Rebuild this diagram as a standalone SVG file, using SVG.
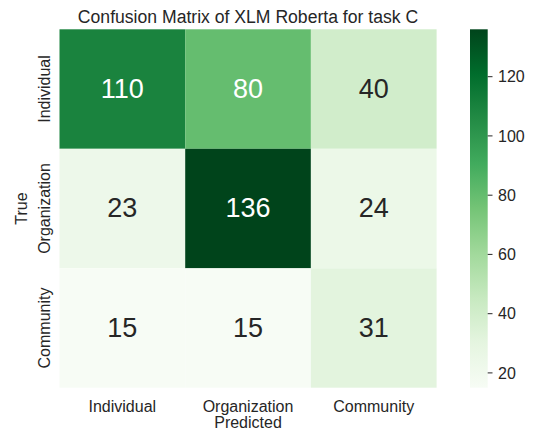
<svg xmlns="http://www.w3.org/2000/svg" width="534" height="430" viewBox="0 0 534 430">
<defs>
<linearGradient id="greens" x1="0" y1="1" x2="0" y2="0">
<stop offset="0" stop-color="#f7fcf5"/>
<stop offset="0.125" stop-color="#e5f5e0"/>
<stop offset="0.25" stop-color="#c7e9c0"/>
<stop offset="0.375" stop-color="#a1d99b"/>
<stop offset="0.5" stop-color="#74c476"/>
<stop offset="0.625" stop-color="#41ab5d"/>
<stop offset="0.75" stop-color="#238b45"/>
<stop offset="0.875" stop-color="#006d2c"/>
<stop offset="1" stop-color="#00441b"/>
</linearGradient>
<style>
text{font-family:"Liberation Sans",Arial,sans-serif;fill:#262626}
.ann{font-size:27px;text-anchor:middle}
.w{fill:#ffffff}
.tick{font-size:16px}
.mid{text-anchor:middle}
.title{font-size:17.6px;text-anchor:middle}
.tk{stroke:#262626;stroke-width:1}
</style>
</defs>
<rect width="534" height="430" fill="#ffffff"/>
<text class="title" x="248" y="23">Confusion Matrix of XLM Roberta for task C</text>
<g id="heatmap">
<g id="cell-0-0"><rect x="59.5" y="29.3" width="125.7" height="119.5" fill="#1a833e"/><text class="ann w" x="122.3" y="97.8">110</text></g>
<g id="cell-0-1"><rect x="185.2" y="29.3" width="125.7" height="119.5" fill="#65bd6f"/><text class="ann w" x="248" y="97.8">80</text></g>
<g id="cell-0-2"><rect x="310.9" y="29.3" width="125.7" height="119.5" fill="#d1edcb"/><text class="ann" x="373.7" y="97.8">40</text></g>
<g id="cell-1-0"><rect x="59.5" y="148.8" width="125.7" height="119.5" fill="#edf8ea"/><text class="ann" x="122.3" y="217.3">23</text></g>
<g id="cell-1-1"><rect x="185.2" y="148.8" width="125.7" height="119.5" fill="#00441b"/><text class="ann w" x="248" y="217.3">136</text></g>
<g id="cell-1-2"><rect x="310.9" y="148.8" width="125.7" height="119.5" fill="#ecf8e8"/><text class="ann" x="373.7" y="217.3">24</text></g>
<g id="cell-2-0"><rect x="59.5" y="268.3" width="125.7" height="119.4" fill="#f7fcf5"/><text class="ann" x="122.3" y="336.8">15</text></g>
<g id="cell-2-1"><rect x="185.2" y="268.3" width="125.7" height="119.4" fill="#f7fcf5"/><text class="ann" x="248" y="336.8">15</text></g>
<g id="cell-2-2"><rect x="310.9" y="268.3" width="125.7" height="119.4" fill="#e3f4de"/><text class="ann" x="373.7" y="336.8">31</text></g>
</g>
<g id="x-axis">
<text class="tick mid" x="122.3" y="411.7">Individual</text>
<text class="tick mid" x="248" y="411.7">Organization</text>
<text class="tick mid" x="373.7" y="411.7">Community</text>
<text class="tick mid" x="248" y="427.5">Predicted</text>
</g>
<g id="y-axis">
<text class="tick mid" transform="translate(49.5,89) rotate(-90)">Individual</text>
<text class="tick mid" transform="translate(49.5,208.5) rotate(-90)">Organization</text>
<text class="tick mid" transform="translate(49.5,328) rotate(-90)">Community</text>
<text class="tick mid" transform="translate(27,208.5) rotate(-90)">True</text>
</g>
<g id="colorbar">
<rect x="470" y="29.3" width="17.7" height="358.4" fill="url(#greens)"/>
<line class="tk" x1="487.7" y1="76.7" x2="492.5" y2="76.7"/>
<line class="tk" x1="487.7" y1="135.9" x2="492.5" y2="135.9"/>
<line class="tk" x1="487.7" y1="195.2" x2="492.5" y2="195.2"/>
<line class="tk" x1="487.7" y1="254.4" x2="492.5" y2="254.4"/>
<line class="tk" x1="487.7" y1="313.7" x2="492.5" y2="313.7"/>
<line class="tk" x1="487.7" y1="372.9" x2="492.5" y2="372.9"/>
<text class="tick" x="498" y="82.4">120</text>
<text class="tick" x="498" y="141.6">100</text>
<text class="tick" x="498" y="200.9">80</text>
<text class="tick" x="498" y="260.1">60</text>
<text class="tick" x="498" y="319.4">40</text>
<text class="tick" x="498" y="378.6">20</text>
</g>
</svg>
